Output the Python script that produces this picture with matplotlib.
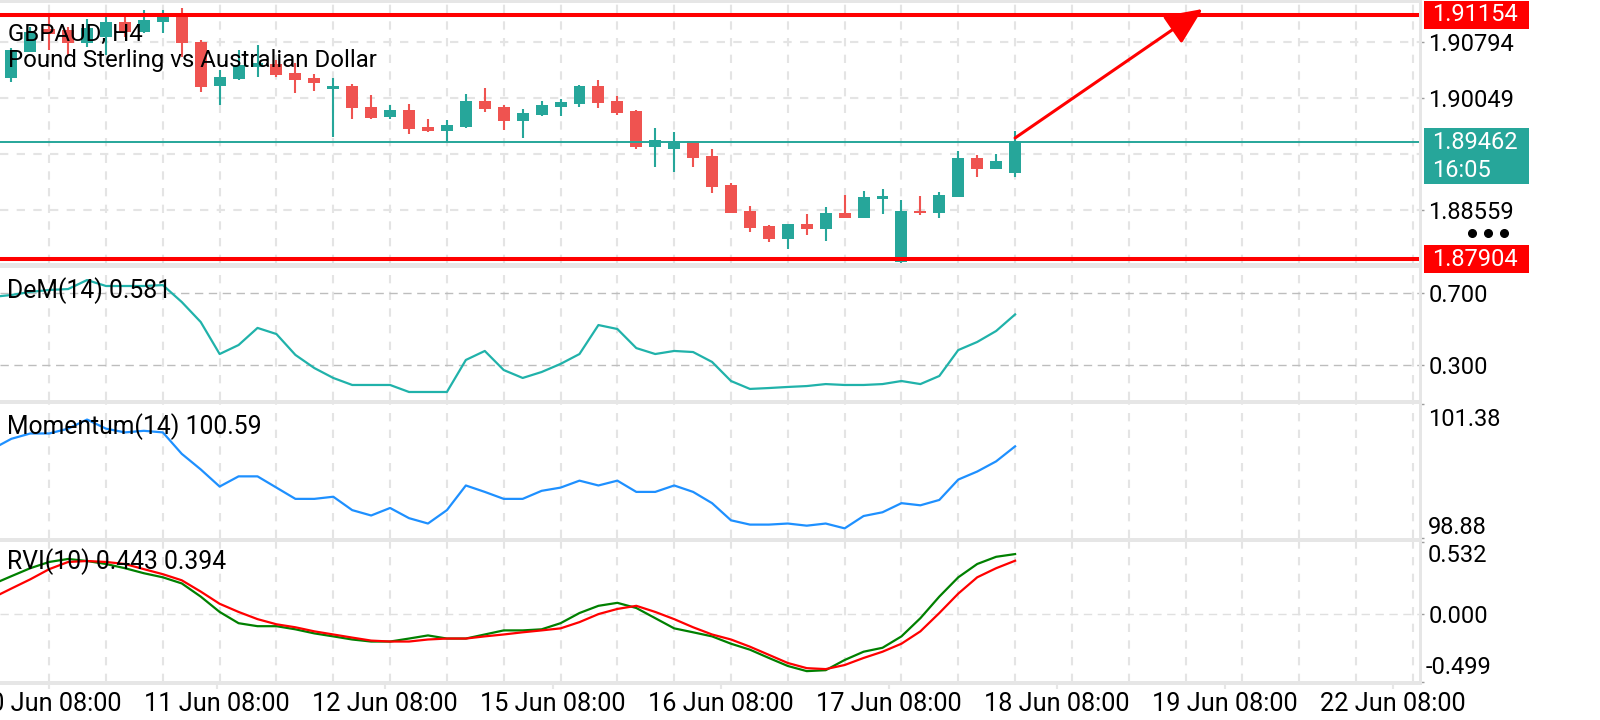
import numpy as np
import matplotlib
matplotlib.use("Agg")
import matplotlib.pyplot as plt
import matplotlib.transforms as mtransforms
import matplotlib.patches as mpatches
from matplotlib.patches import Rectangle, FancyArrowPatch
from matplotlib.lines import Line2D

plt.rcParams['font.family'] = ['Roboto', 'DejaVu Sans']

# ---------------- data ----------------
opens = [1.90316, 1.90661, 1.90967, 1.90954, 1.90781, 1.90861, 1.91060, 1.90927, 1.91060, 1.91180,
         1.90794, 1.90209, 1.90302, 1.90462, 1.90502, 1.90382, 1.90316, 1.90169, 1.90209, 1.89930,
         1.89797, 1.89890, 1.89664, 1.89611, 1.89664, 1.90010, 1.89930, 1.89744, 1.89824, 1.89930,
         1.89970, 1.90209, 1.90010, 1.89877, 1.89398, 1.89371, 1.89478, 1.89278, 1.88893, 1.88547,
         1.88347, 1.88174, 1.88374, 1.88307, 1.88520, 1.88454, 1.88706, 1.87868, 1.88547, 1.88520,
         1.88733, 1.89252, 1.89106, 1.89052]
highs = [1.90715, 1.90994, 1.91153, 1.90994, 1.91100, 1.91153, 1.91127, 1.91220, 1.91220, 1.91247,
         1.90821, 1.90422, 1.90688, 1.90755, 1.90555, 1.90515, 1.90369, 1.90316, 1.90236, 1.90090,
         1.89956, 1.89970, 1.89770, 1.89757, 1.90103, 1.90183, 1.89956, 1.89903, 1.90010, 1.90036,
         1.90223, 1.90289, 1.90076, 1.89890, 1.89651, 1.89597, 1.89478, 1.89371, 1.88919, 1.88613,
         1.88361, 1.88374, 1.88507, 1.88600, 1.88760, 1.88813, 1.88840, 1.88693, 1.88746, 1.88799,
         1.89345, 1.89292, 1.89305, 1.89611]
lows = [1.90262, 1.90655, 1.90688, 1.90622, 1.90728, 1.90622, 1.90861, 1.90914, 1.90914, 1.90595,
        1.90129, 1.89956, 1.90289, 1.90329, 1.90329, 1.90116, 1.90143, 1.89531, 1.89770, 1.89770,
        1.89770, 1.89571, 1.89597, 1.89464, 1.89651, 1.89863, 1.89624, 1.89518, 1.89810, 1.89810,
        1.89930, 1.89917, 1.89824, 1.89371, 1.89132, 1.89065, 1.89132, 1.88784, 1.88515, 1.88267,
        1.88135, 1.88041, 1.88228, 1.88148, 1.88454, 1.88450, 1.88507, 1.87855, 1.88494, 1.88454,
        1.88730, 1.88999, 1.89100, 1.88999]
closes = [1.90688, 1.90927, 1.90901, 1.90781, 1.90981, 1.91060, 1.90927, 1.91087, 1.91153, 1.90781,
          1.90196, 1.90329, 1.90488, 1.90515, 1.90356, 1.90289, 1.90249, 1.90209, 1.89917, 1.89784,
          1.89890, 1.89637, 1.89611, 1.89690, 1.90010, 1.89903, 1.89744, 1.89850, 1.89956, 1.89996,
          1.90209, 1.89983, 1.89850, 1.89398, 1.89491, 1.89478, 1.89252, 1.88866, 1.88520, 1.88321,
          1.88174, 1.88374, 1.88307, 1.88520, 1.88454, 1.88733, 1.88746, 1.88547, 1.88520, 1.88760,
          1.89252, 1.89106, 1.89212, 1.89462]

# indicator values start one bar before the first visible candle
indicator_start = -1
dem = [0.678, 0.689, 0.706, 0.717, 0.722, 0.772, 0.739, 0.739, 0.739, 0.744, 0.650, 0.539, 0.361,
       0.411, 0.506, 0.472, 0.356, 0.283, 0.228, 0.189, 0.189, 0.189, 0.150, 0.150, 0.150, 0.328,
       0.378, 0.272, 0.228, 0.261, 0.306, 0.361, 0.522, 0.500, 0.394, 0.361, 0.378, 0.372, 0.317,
       0.211, 0.167, 0.172, 0.178, 0.183, 0.194, 0.189, 0.189, 0.194, 0.211, 0.194, 0.239, 0.383,
       0.428, 0.489, 0.581]
momentum = [100.54, 100.73, 100.83, 100.83, 100.92, 101.09, 100.92, 100.85, 100.88, 100.85, 100.45,
            100.16, 99.84, 100.03, 100.03, 99.82, 99.61, 99.61, 99.65, 99.40, 99.30, 99.44, 99.25,
            99.15, 99.40, 99.86, 99.74, 99.61, 99.61, 99.76, 99.82, 99.95, 99.86, 99.95, 99.74, 99.74,
            99.86, 99.74, 99.53, 99.21, 99.13, 99.13, 99.15, 99.11, 99.15, 99.06, 99.29, 99.36, 99.53,
            99.49, 99.59, 99.97, 100.12, 100.31, 100.59]
rvi_main = [0.220, 0.280, 0.339, 0.385, 0.407, 0.392, 0.370, 0.339, 0.302, 0.272, 0.227, 0.130, 0.017,
            -0.066, -0.088, -0.088, -0.111, -0.141, -0.163, -0.186, -0.201, -0.201, -0.179, -0.156,
            -0.179, -0.179, -0.149, -0.119, -0.119, -0.111, -0.066, 0.009, 0.062, 0.084, 0.046,
            -0.029, -0.104, -0.133, -0.163, -0.217, -0.261, -0.322, -0.381, -0.419, -0.412, -0.337,
            -0.276, -0.247, -0.163, -0.029, 0.130, 0.272, 0.370, 0.423, 0.443]
rvi_signal = [0.120, 0.189, 0.257, 0.332, 0.385, 0.392, 0.385, 0.370, 0.332, 0.295, 0.250, 0.167, 0.077,
              0.017, -0.036, -0.074, -0.096, -0.126, -0.149, -0.172, -0.194, -0.201, -0.201, -0.186,
              -0.179, -0.179, -0.163, -0.149, -0.133, -0.119, -0.104, -0.058, 0.001, 0.039, 0.062,
              0.017, -0.036, -0.096, -0.149, -0.186, -0.239, -0.299, -0.359, -0.397, -0.404, -0.374,
              -0.322, -0.276, -0.217, -0.126, 0.009, 0.152, 0.272, 0.339, 0.394]

x_labels = ["10 Jun 08:00", "11 Jun 08:00", "12 Jun 08:00", "15 Jun 08:00", "16 Jun 08:00",
            "17 Jun 08:00", "18 Jun 08:00", "19 Jun 08:00", "22 Jun 08:00"]
price_ticks = [1.90794, 1.90049, 1.88559]
grid_step = 0.00745
resistance = 1.91154
support = 1.87904
last_price = 1.89462
timer_text = "16:05"
arrow_start = (53, 1.89518)
arrow_end = (62.9, 1.91233)
symbol_text = "GBPAUD, H4"
desc_text = "Pound Sterling vs Australian Dollar"
dem_label = "DeM(14) 0.581"
mom_label = "Momentum(14) 100.59"
rvi_label = "RVI(10) 0.443 0.394"
dem_levels = [0.7, 0.3]
mom_range = (98.88, 101.38)
rvi_range = (-0.499, 0.532)

# ---------------- style ----------------
TEAL = '#26a69a'
RED_C = '#ef5350'
RED_L = '#ff0000'
GRID = '#e4e4e4'
SEP = '#e6e6e6'
FS = 17
FS_LEG = 17.8
FS_TITLE = 17.3
FS_X = 18.2

W, H = 1600, 720
fig = plt.figure(figsize=(W / 100, H / 100), dpi=100)
fig.patch.set_facecolor('white')


def rect(top, bottom, left=0, right=1420):
    return [left / W, 1 - bottom / H, (right - left) / W, (bottom - top) / H]


ax_main = fig.add_axes(rect(3, 263))
ax_dem = fig.add_axes(rect(268, 400))
ax_mom = fig.add_axes(rect(404, 538))
ax_rvi = fig.add_axes(rect(542, 682))
axes = [ax_main, ax_dem, ax_mom, ax_rvi]

n = len(opens)
x = np.arange(n)
xi = np.arange(indicator_start, indicator_start + len(dem))
X_LEFT, X_RIGHT = -0.597, 74.38
grid_x = np.arange(2, 75, 3)

for ax in axes:
    ax.set_xlim(X_LEFT, X_RIGHT)
    for s in ax.spines.values():
        s.set_visible(False)
    ax.set_facecolor('none')
    for gx in grid_x:
        ax.axvline(gx, color=GRID, lw=1.5, dashes=(4, 4), zorder=0)
    ax.yaxis.tick_right()
    ax.tick_params(axis='y', length=3, width=1, color='#9e9e9e', labelsize=FS, pad=3,
                   labelcolor='black')
    ax.tick_params(axis='x', length=0, labelbottom=False)

# ---------------- main price panel ----------------
PPX = grid_step / 56.0  # price per pixel
ax_main.set_ylim(1.87855, 1.91313)
lvl = price_ticks[0]
while lvl < 1.9132:
    lvl += grid_step
lvl -= grid_step
while lvl > 1.8785:
    ax_main.axhline(lvl, color=GRID, lw=1.5, dashes=(4, 4), zorder=0)
    lvl -= grid_step

o = np.array(opens); h = np.array(highs); l = np.array(lows); c = np.array(closes)
up = c >= o
col = np.where(up, TEAL, RED_C)
ax_main.vlines(x, l, h, colors=col, lw=1.5, zorder=2)
ax_main.bar(x, np.maximum(np.abs(c - o), 0.00022), bottom=np.minimum(o, c), width=0.63,
            color=col, lw=0, zorder=3)
ax_main.axhline(last_price, color=TEAL, lw=1.4, zorder=4)
ax_main.axhline(resistance, color=RED_L, lw=2.9, zorder=5)
ax_main.axhline(support, color=RED_L, lw=2.9, zorder=5)
ax_main.set_yticks(price_ticks, [f'{v:.5f}' for v in price_ticks])

arrow = FancyArrowPatch(arrow_start, arrow_end,
                        arrowstyle=mpatches.ArrowStyle('-|>', head_length=2.29, head_width=1.03),
                        mutation_scale=10, color=RED_L, lw=2.2, shrinkA=0, shrinkB=0,
                        zorder=6, clip_on=False)
ax_main.add_patch(arrow)

ax_main.annotate(symbol_text, xy=(0, 1), xycoords='axes fraction', xytext=(8, -31),
                 textcoords='offset pixels', va='center', ha='left', fontsize=FS_TITLE, zorder=7)
ax_main.annotate(desc_text, xy=(0, 1), xycoords='axes fraction', xytext=(8, -58),
                 textcoords='offset pixels', va='center', ha='left', fontsize=FS_TITLE, zorder=7)

blend = mtransforms.blended_transform_factory(fig.transFigure, ax_main.transData)


def price_box(price, color, up_px, down_px):
    fig.add_artist(Rectangle((1424 / W, price - down_px * PPX), 105 / W, (up_px + down_px) * PPX,
                             transform=blend, facecolor=color, edgecolor='none', zorder=10))


price_box(resistance, RED_L, 14, 14)
fig.text(1432 / W, resistance, f'{resistance:.5f}', transform=blend, color='white', fontsize=FS,
         va='center', ha='left', zorder=11)
price_box(support, RED_L, 14, 14)
fig.text(1432 / W, support, f'{support:.5f}', transform=blend, color='white', fontsize=FS,
         va='center', ha='left', zorder=11)
price_box(last_price, TEAL, 14, 42)
fig.text(1432 / W, last_price, f'{last_price:.5f}', transform=blend, color='white', fontsize=FS,
         va='center', ha='left', zorder=11)
fig.text(1432 / W, last_price - 28 * PPX, timer_text, transform=blend, color='white', fontsize=FS,
         va='center', ha='left', zorder=11)

fig.add_artist(Line2D([1472 / W, 1488 / W, 1504 / W], [1 - 233 / H] * 3, marker='o', ms=5.5,
                      ls='none', color='black', transform=fig.transFigure, zorder=11))

# ---------------- DeM ----------------
ax_dem.set_ylim(0.1055, 0.839)
for lv in dem_levels:
    ax_dem.axhline(lv, color='#bdbdbd', lw=1, dashes=(6, 4), zorder=1)
ax_dem.plot(xi, dem, color='#20b2aa', lw=1.6, zorder=3)
ax_dem.set_yticks(dem_levels, [f'{v:.3f}' for v in dem_levels])
ax_dem.annotate(dem_label, xy=(0, 1), xycoords='axes fraction', xytext=(7, -23),
                textcoords='offset pixels', va='center', ha='left', fontsize=FS_LEG, zorder=7)

# ---------------- Momentum ----------------
ax_mom.set_ylim(*mom_range)
ax_mom.plot(xi, momentum, color='#1e90ff', lw=1.6, zorder=3)
ax_mom.set_yticks(list(mom_range), ['', ''])
ax_mom.annotate(f'{mom_range[1]:.2f}', xy=(1, 1), xycoords='axes fraction', xytext=(8, -16),
                textcoords='offset pixels', va='center', ha='left', fontsize=FS)
ax_mom.annotate(f'{mom_range[0]:.2f}', xy=(1, 0), xycoords='axes fraction', xytext=(8, 11),
                textcoords='offset pixels', va='center', ha='left', fontsize=FS)
ax_mom.annotate(mom_label, xy=(0, 1), xycoords='axes fraction', xytext=(7, -23),
                textcoords='offset pixels', va='center', ha='left', fontsize=FS_LEG, zorder=7)

# ---------------- RVI ----------------
ax_rvi.set_ylim(*rvi_range)
ax_rvi.axhline(0, color='#e0e0e0', lw=1, dashes=(6, 4), zorder=1)
ax_rvi.plot(xi, rvi_main, color='#008000', lw=1.6, zorder=3)
ax_rvi.plot(xi, rvi_signal, color='#ff0000', lw=1.6, zorder=3)
ax_rvi.set_yticks([rvi_range[0], 0, rvi_range[1]], ['', '0.000', ''])
ax_rvi.annotate(f'{rvi_range[1]:.3f}', xy=(1, 1), xycoords='axes fraction', xytext=(8, -13),
                textcoords='offset pixels', va='center', ha='left', fontsize=FS)
ax_rvi.annotate(f'{rvi_range[0]:.3f}', xy=(1, 0), xycoords='axes fraction', xytext=(6, 14),
                textcoords='offset pixels', va='center', ha='left', fontsize=FS)
ax_rvi.annotate(rvi_label, xy=(0, 1), xycoords='axes fraction', xytext=(7, -20),
                textcoords='offset pixels', va='center', ha='left', fontsize=FS_LEG, zorder=7)

tick_pos = 1.99 + 8.87 * np.arange(len(x_labels))
ax_rvi.set_xticks(tick_pos, x_labels)
ax_rvi.tick_params(axis='x', length=5, width=1.5, color=SEP, labelbottom=True, pad=2.5,
                   labelsize=FS_X)

# ---------------- separators ----------------


def px_rect(x0, y0, x1, y1, color=SEP, z=9):
    fig.add_artist(Rectangle((x0 / W, 1 - y1 / H), (x1 - x0) / W, (y1 - y0) / H,
                             transform=fig.transFigure, facecolor=color, edgecolor='none',
                             zorder=z))


px_rect(0, 0, 1422, 3)
px_rect(0, 263, 1422, 268)
px_rect(0, 400, 1422, 404)
px_rect(0, 538, 1422, 542)
px_rect(0, 681, 1422, 685)
px_rect(1419, 0, 1422, 685)

fig.savefig('out.png', dpi=100, facecolor='white')
